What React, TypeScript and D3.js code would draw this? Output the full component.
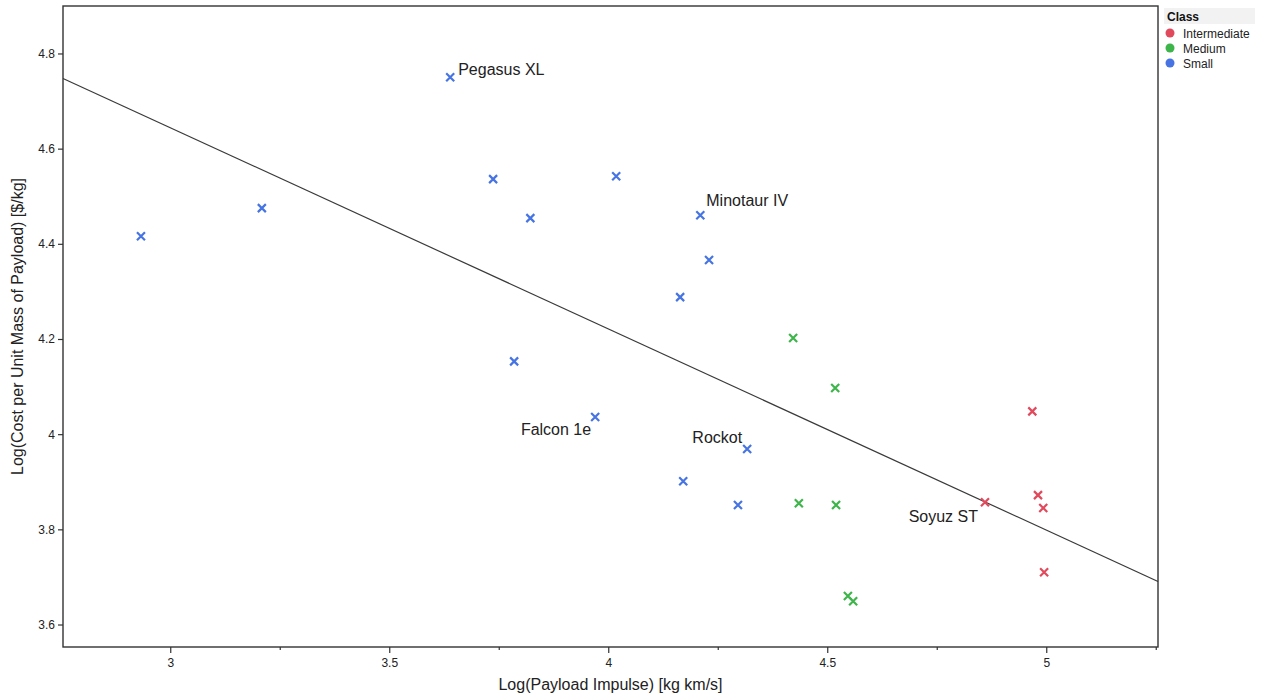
import * as d3 from 'd3';
import React from 'react';

// data
const smallX = [2.932, 3.208, 3.638, 3.736, 3.821, 4.017, 4.209, 4.229, 4.163, 3.784, 3.969, 4.316, 4.170, 4.295];
const smallY = [4.417, 4.476, 4.751, 4.537, 4.455, 4.543, 4.461, 4.367, 4.289, 4.154, 4.037, 3.970, 3.902, 3.852];
const mediumX = [4.421, 4.517, 4.434, 4.519, 4.546, 4.558];
const mediumY = [4.203, 4.098, 3.856, 3.852, 3.661, 3.650];
const interX = [4.967, 4.859, 4.980, 4.992, 4.994];
const interY = [4.049, 3.858, 3.873, 3.846, 3.711];

const classes = ['Intermediate', 'Medium', 'Small'];
const classColors = ['#E04A5C', '#3DB54A', '#4674E2'];

const fitIntercept = 5.913;
const fitSlope = -0.4228;

const labelNames = ['Pegasus XL', 'Minotaur IV', 'Falcon 1e', 'Rockot', 'Soyuz ST'];
const labelX = [3.638, 4.209, 3.969, 4.316, 4.859];
const labelY = [4.751, 4.461, 4.037, 3.970, 3.858];

const xMajor = [3, 3.5, 4, 4.5, 5];
const xMinor = [3.25, 3.75, 4.25, 4.75, 5.25];
const yTicks = [3.6, 3.8, 4.0, 4.2, 4.4, 4.6, 4.8];

const W = 1274, H = 695;
const margin = { left: 63, right: 116, top: 6, bottom: 48 };
const FONT = '"Liberation Sans", Arial, sans-serif';

// label placement relative to its point (anchor, dx, dy)
const labelPlace: [string, number, number][] = [
  ['start', 8, -2],
  ['start', 6, -9],
  ['end', -4, 18],
  ['end', -5, -6],
  ['end', -7, 20],
];

const App = () => {
  const x = d3.scaleLinear().domain([2.754, 5.254]).range([margin.left, W - margin.right]);
  const y = d3.scaleLinear().domain([3.5538, 4.9008]).range([H - margin.bottom, margin.top]);

  const groups = [
    { name: 'Small', xs: smallX, ys: smallY, color: classColors[2] },
    { name: 'Medium', xs: mediumX, ys: mediumY, color: classColors[1] },
    { name: 'Intermediate', xs: interX, ys: interY, color: classColors[0] },
  ];

  const [x0, x1] = x.domain();
  const fitLine = d3.line<number>().x(d => x(d)).y(d => y(fitIntercept + fitSlope * d));

  const bottom = H - margin.bottom;
  const s = 4;
  const axisColor = '#333';

  return (
    <svg width={W} height={H} style={{ position: 'absolute', left: 0, top: 0, background: '#fff' }} fontFamily={FONT}>
      {/* fit line */}
      <path d={fitLine([x0, x1]) || ''} stroke="#3a3a3a" strokeWidth={1.2} fill="none" />

      {/* points */}
      {groups.map(g => g.xs.map((v, i) => {
        const cx = x(v), cy = y(g.ys[i]);
        return (
          <path key={g.name + i}
            d={`M${cx - s},${cy - s}L${cx + s},${cy + s}M${cx - s},${cy + s}L${cx + s},${cy - s}`}
            stroke={g.color} strokeWidth={2.2} />
        );
      }))}

      {/* labels */}
      {labelNames.map((n, i) => (
        <text key={n} x={x(labelX[i]) + labelPlace[i][1]} y={y(labelY[i]) + labelPlace[i][2]}
          textAnchor={labelPlace[i][0] as any} fontSize={16} fill="#222">{n}</text>
      ))}

      {/* frame */}
      <rect x={margin.left} y={margin.top} width={W - margin.left - margin.right} height={bottom - margin.top}
        fill="none" stroke={axisColor} strokeWidth={1.4} />

      {/* x ticks */}
      {xMajor.map(t => (
        <g key={'xm' + t}>
          <line x1={x(t)} x2={x(t)} y1={bottom} y2={bottom + 6} stroke={axisColor} strokeWidth={1.2} />
          <text x={x(t)} y={bottom + 20} textAnchor="middle" fontSize={12} fill="#222">{d3.format('')(t)}</text>
        </g>
      ))}
      {xMinor.map(t => (
        <line key={'xn' + t} x1={x(t)} x2={x(t)} y1={bottom} y2={bottom + 3} stroke={axisColor} strokeWidth={1.2} />
      ))}

      {/* y ticks */}
      {yTicks.map(t => (
        <g key={'y' + t}>
          <line x1={margin.left - 5} x2={margin.left} y1={y(t)} y2={y(t)} stroke={axisColor} strokeWidth={1.2} />
          <text x={margin.left - 8} y={y(t) + 4} textAnchor="end" fontSize={12} fill="#222">{d3.format('')(t)}</text>
        </g>
      ))}

      {/* axis titles */}
      <text x={(margin.left + W - margin.right) / 2} y={H - 5} textAnchor="middle" fontSize={16} fill="#222">
        Log(Payload Impulse) [kg km/s]
      </text>
      <text transform={`translate(23,${(margin.top + bottom) / 2}) rotate(-90)`} textAnchor="middle" fontSize={16} fill="#222">
        Log(Cost per Unit Mass of Payload) [$/kg]
      </text>

      {/* legend */}
      <g transform={`translate(${W - margin.right + 6},8)`}>
        <rect x={0} y={0} width={91} height={16} fill="#f2f2f2" />
        <text x={3} y={13} fontSize={12} fontWeight="bold" fill="#111">Class</text>
        {classes.map((c, i) => (
          <g key={c} transform={`translate(0,${25 + i * 15})`}>
            <circle cx={6} cy={0} r={4.5} fill={classColors[i]} />
            <text x={19} y={4.5} fontSize={12} fill="#222">{c}</text>
          </g>
        ))}
      </g>
    </svg>
  );
};

export default App;
